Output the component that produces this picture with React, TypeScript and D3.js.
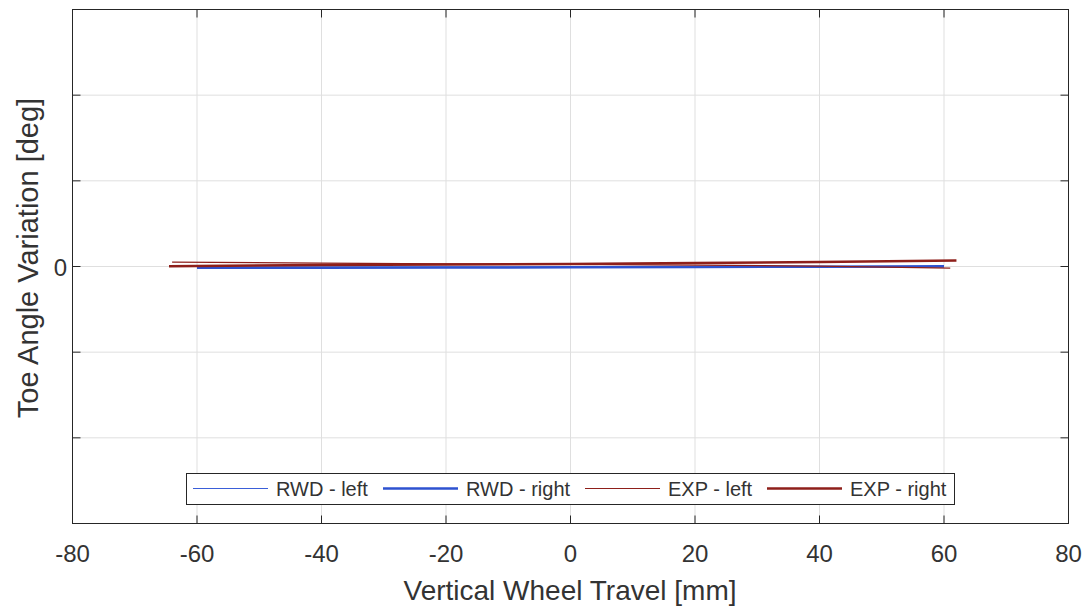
import React from "react";
import * as d3 from "d3";

// Vertical wheel travel [mm] and toe angle variation [deg] per suspension side
const rwdLeftX = [-60, -40, -20, 0, 20, 40, 60];
const rwdLeftY = [-0.004, -0.004, -0.003, -0.003, -0.002, -0.002, -0.002];
const rwdRightX = [-60, -40, -20, 0, 20, 40, 60];
const rwdRightY = [-0.008, -0.007, -0.006, -0.005, -0.003, -0.001, 0.002];
const expLeftX = [-64, -40, -20, 0, 20, 40, 61];
const expLeftY = [0.026, 0.02, 0.015, 0.012, 0.008, 0.002, -0.009];
const expRightX = [-64.5, -40, -20, 0, 20, 40, 62];
const expRightY = [0.002, 0.009, 0.011, 0.014, 0.02, 0.026, 0.035];

const xTicks = [-80, -60, -40, -20, 0, 20, 40, 60, 80];
const yTicks = [-1, -0.5, 0, 0.5, 1];
const yTickLabels = ["", "", "0", "", ""];

const seriesNames = ["RWD - left", "RWD - right", "EXP - left", "EXP - right"];

export default function App() {
  const W = 1088;
  const H = 607;
  const left = 72.5;
  const right = 1068.5;
  const top = 9.5;
  const bottom = 523.5;

  const x = d3.scaleLinear().domain([-80, 80]).range([left, right]);
  const y = d3.scaleLinear().domain([-1.5, 1.5]).range([bottom, top]);

  const line = d3
    .line<[number, number]>()
    .x((d) => x(d[0]))
    .y((d) => y(d[1]));

  const series = [
    { xs: rwdLeftX, ys: rwdLeftY, color: "#3a5ed8", width: 1.2 },
    { xs: rwdRightX, ys: rwdRightY, color: "#2e52d0", width: 2.5 },
    { xs: expLeftX, ys: expLeftY, color: "#8e1f1a", width: 1.2 },
    { xs: expRightX, ys: expRightY, color: "#8e1f1a", width: 2.5 },
  ];

  const axisColor = "#262626";
  const textColor = "#333333";
  const font = "'Liberation Sans', Arial, Helvetica, sans-serif";
  const tickLen = 8;

  // legend layout
  const legX = 186.5;
  const legY = 473.5;
  const legW = 768;
  const legH = 31;
  const entryStarts = [193, 383, 585, 767];
  const lineLen = 75;
  const legMid = legY + 15;

  return (
    <svg width={W} height={H} style={{ position: "absolute", left: 0, top: 0 }}>
      <rect x={0} y={0} width={W} height={H} fill="#ffffff" />
      {/* grid */}
      <g stroke="#dfdfdf" strokeWidth={1}>
        {xTicks.slice(1, -1).map((t) => (
          <line key={"gx" + t} x1={x(t)} x2={x(t)} y1={top} y2={bottom} />
        ))}
        {yTicks.map((t) => (
          <line key={"gy" + t} x1={left} x2={right} y1={y(t)} y2={y(t)} />
        ))}
      </g>

      {/* data lines */}
      <defs>
        <clipPath id="plotClip">
          <rect x={left} y={top} width={right - left} height={bottom - top} />
        </clipPath>
      </defs>
      <g fill="none" clipPath="url(#plotClip)">
        {series.map((s, i) => (
          <path
            key={i}
            d={line(s.xs.map((v, j) => [v, s.ys[j]] as [number, number])) || ""}
            stroke={s.color}
            strokeWidth={s.width}
          />
        ))}
      </g>

      {/* axes box and ticks */}
      <g stroke={axisColor} strokeWidth={1} fill="none">
        <rect x={left} y={top} width={right - left} height={bottom - top} />
        {xTicks.map((t) => (
          <g key={"tx" + t}>
            <line x1={x(t)} x2={x(t)} y1={bottom} y2={bottom - tickLen} />
            <line x1={x(t)} x2={x(t)} y1={top} y2={top + tickLen} />
          </g>
        ))}
        {yTicks.map((t) => (
          <g key={"ty" + t}>
            <line x1={left} x2={left + tickLen} y1={y(t)} y2={y(t)} />
            <line x1={right} x2={right - tickLen} y1={y(t)} y2={y(t)} />
          </g>
        ))}
      </g>

      {/* tick labels */}
      <g fill={textColor} fontFamily={font} fontSize={24}>
        {xTicks.map((t) => (
          <text key={"lx" + t} x={x(t)} y={562} textAnchor="middle">
            {t}
          </text>
        ))}
        {yTicks.map((t, i) => (
          <text key={"ly" + t} x={67} y={y(t) + 9} textAnchor="end">
            {yTickLabels[i]}
          </text>
        ))}
      </g>

      {/* axis titles */}
      <text
        x={570}
        y={600}
        textAnchor="middle"
        fontFamily={font}
        fontSize={28}
        fill={textColor}
      >
        Vertical Wheel Travel [mm]
      </text>
      <text
        transform={`translate(38, 258) rotate(-90)`}
        textAnchor="middle"
        fontFamily={font}
        fontSize={29}
        fill={textColor}
      >
        Toe Angle Variation [deg]
      </text>

      {/* legend */}
      <g>
        <rect
          x={legX}
          y={legY}
          width={legW}
          height={legH}
          fill="#ffffff"
          stroke={axisColor}
          strokeWidth={1}
        />
        {series.map((s, i) => (
          <g key={"leg" + i}>
            <line
              x1={entryStarts[i]}
              x2={entryStarts[i] + lineLen}
              y1={legMid}
              y2={legMid}
              stroke={s.color}
              strokeWidth={s.width}
            />
            <text
              x={entryStarts[i] + lineLen + 8}
              y={legMid + 7}
              fontFamily={font}
              fontSize={20}
              fill={textColor}
            >
              {seriesNames[i]}
            </text>
          </g>
        ))}
      </g>
    </svg>
  );
}
